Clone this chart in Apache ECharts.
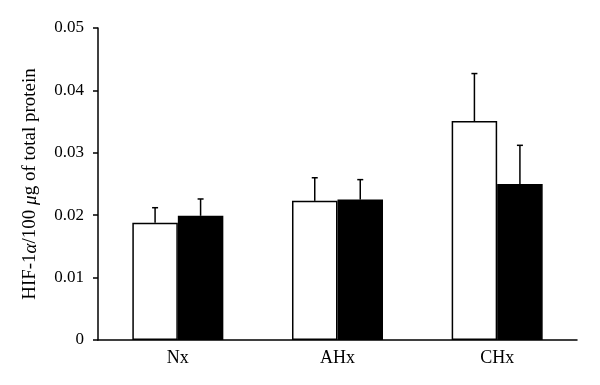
<!DOCTYPE html>
<html><head><meta charset="utf-8">
<script src="https://cdn.jsdelivr.net/npm/echarts@6/dist/echarts.min.js"></script>
<style>html,body{margin:0;padding:0;background:#fff}#c{width:600px;height:385px}</style>
</head><body><div id="c"></div>
<script>
const categories = ['Nx', 'AHx', 'CHx'];
const whiteValues = [0.0188, 0.0223, 0.0351];
const whiteErrors = [0.0024, 0.0037, 0.0076];
const blackValues = [0.0199, 0.0225, 0.0250];
const blackErrors = [0.0027, 0.0032, 0.0062];
const yTicks = [0, 0.01, 0.02, 0.03, 0.04, 0.05];

const font = 'Liberation Serif, Times New Roman, serif';
const chart = echarts.init(document.getElementById('c'), null, {renderer: 'canvas'});

function errSeries(vals, errs, offsetSign) {
  return {
    type: 'custom',
    z: 1,
    silent: true,
    data: vals.map((v, i) => [i, v, v + errs[i]]),
    renderItem: function (params, api) {
      const bw = api.size([1, 0])[0];
      const barW = bw * 0.285;
      const x0 = api.coord([api.value(0), api.value(1)]);
      const x1 = api.coord([api.value(0), api.value(2)]);
      const cx = x0[0] + offsetSign * barW / 2;
      return {
        type: 'group',
        children: [
          {type: 'line', shape: {x1: cx, y1: x0[1], x2: cx, y2: x1[1]}, style: {stroke: '#000', lineWidth: 1.5}},
          {type: 'line', shape: {x1: cx - 3, y1: x1[1], x2: cx + 3, y2: x1[1]}, style: {stroke: '#000', lineWidth: 1.5}}
        ]
      };
    }
  };
}

chart.setOption({
  animation: false,
  backgroundColor: '#fff',
  grid: {left: 98, right: 23, top: 28, bottom: 45},
  xAxis: {
    type: 'category',
    data: categories,
    axisLine: {lineStyle: {color: '#000', width: 1.5}},
    axisTick: {show: false},
    axisLabel: {color: '#000', fontFamily: font, fontSize: 18, margin: 9}
  },
  yAxis: {
    type: 'value',
    min: 0, max: 0.05, interval: 0.01,
    name: 'HIF-1{i|α}/100 {i|μ}g of total protein',
    nameLocation: 'middle',
    nameGap: 58,
    nameTextStyle: {color: '#000', fontFamily: font, fontSize: 19, rich: {i: {fontStyle: 'italic', fontFamily: font, fontSize: 19, color: '#000'}}},
    axisLine: {show: true, lineStyle: {color: '#000', width: 1.5}},
    axisTick: {show: true, length: 5, lineStyle: {color: '#000', width: 1.5}},
    splitLine: {show: false},
    axisLabel: {color: '#000', fontFamily: font, fontSize: 17, margin: 14,
      formatter: function (v) { const t = yTicks.find(x => Math.abs(x - v) < 1e-9); return t === 0 ? '0' : String(t); }}
  },
  series: [
    {type: 'bar', data: whiteValues, barWidth: '28.5%', barGap: '0%', z: 2,
      itemStyle: {color: '#fff', borderColor: '#000', borderWidth: 1.5}},
    {type: 'bar', data: blackValues, barWidth: '28.5%', barGap: '0%', z: 2,
      itemStyle: {color: '#000', borderColor: '#000', borderWidth: 1.5}},
    errSeries(whiteValues, whiteErrors, -1),
    errSeries(blackValues, blackErrors, 1)
  ]
});
</script></body></html>
